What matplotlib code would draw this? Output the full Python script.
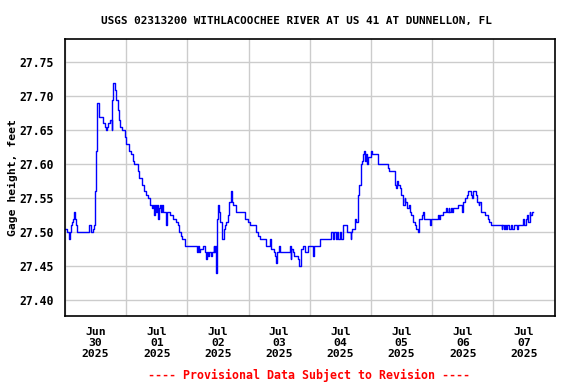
import numpy as np
import pandas as pd
import matplotlib
matplotlib.use('Agg')
import matplotlib.pyplot as plt
import matplotlib.dates as mdates

# gage height breakpoints: hours after 2025-06-30 00:00, value in feet (15-min steps)
hours = [0, 0.75, 1.5, 2, 2.25, 2.75, 3, 3.5, 4, 4.25, 4.75, 9.5, 10.25, 11, 11.5,
         11.75, 12.25, 12.5, 12.75, 13.5, 15, 15.75, 16.25, 16.5, 16.75, 17.75, 18.25,
         18.5, 19, 19.75, 20, 20.75, 21.25, 21.75, 22.25, 23.5, 24, 25, 25.75, 26.5,
         27.25, 28.5, 29, 30.25, 31, 31.75, 32.5, 33.5, 34, 34.5, 34.75, 35.25, 35.75,
         36, 36.5, 36.75, 37.25, 37.5, 38, 38.5, 39.75, 40, 41.25, 42.5, 43.5, 44.25,
         44.75, 45.5, 45.75, 47.25, 51.75, 52, 52.5, 53, 54.25, 54.75, 55.25, 55.75,
         56.25, 56.5, 57.25, 57.5, 58.25, 58.5, 59, 59.25, 59.5, 59.75, 60, 60.5, 60.75,
         61.5, 61.75, 62.25, 62.75, 63.25, 64, 64.5, 65, 65.5, 65.75, 67.25, 70.75,
         71.75, 72.5, 75, 75.75, 76.5, 78.75, 80.5, 80.75, 82, 82.25, 82.75, 83, 83.75,
         84.25, 88.25, 88.5, 88.75, 89.5, 90, 91.25, 91.75, 92.75, 93.25, 94, 95.25,
         97.25, 97.5, 100, 104.5, 105, 105.5, 106.25, 106.5, 107.25, 107.75, 108.25,
         109, 110.5, 112, 112.25, 112.75, 113.75, 114.25, 114.75, 115, 115.5, 116,
         116.5, 116.75, 117.25, 117.75, 118, 118.5, 118.75, 120, 120.25, 122.75, 126.75,
         127.25, 129.25, 130, 130.25, 130.5, 131.25, 131.75, 132.5, 132.75, 133.25,
         133.5, 134.25, 135, 135.5, 135.75, 136.5, 137.25, 137.75, 138.25, 138.75, 139,
         140, 140.25, 140.75, 143.25, 143.5, 146.25, 146.75, 147.25, 148.25, 149.5, 150,
         150.5, 150.75, 151.25, 151.75, 152.25, 154, 155.75, 156, 156.75, 157.5, 158,
         159.25, 159.75, 160, 161, 161.5, 161.75, 162.25, 162.5, 163.25, 164.75, 165.75,
         166.25, 167, 171.25, 171.5, 172, 172.5, 173, 173.5, 174, 174.75, 175.25, 176.25,
         177.25, 177.75, 179.5, 180, 180.75, 181.25, 181.75, 182.25, 182.5, 183, 183.5]
gage_ft = [27.505, 27.50, 27.49, 27.50, 27.51, 27.515, 27.52, 27.53, 27.52, 27.51, 27.50,
           27.51, 27.50, 27.505, 27.51, 27.56, 27.62, 27.66, 27.69, 27.67, 27.66, 27.655,
           27.65, 27.655, 27.66, 27.665, 27.65, 27.695, 27.72, 27.71, 27.695, 27.68,
           27.665, 27.655, 27.65, 27.64, 27.63, 27.62, 27.615, 27.605, 27.60, 27.59, 27.58,
           27.57, 27.56, 27.555, 27.55, 27.54, 27.535, 27.54, 27.525, 27.54, 27.53, 27.54,
           27.52, 27.535, 27.54, 27.53, 27.54, 27.53, 27.51, 27.53, 27.525, 27.52, 27.515,
           27.51, 27.50, 27.495, 27.49, 27.48, 27.47, 27.48, 27.47, 27.475, 27.48, 27.47,
           27.46, 27.47, 27.465, 27.47, 27.465, 27.47, 27.48, 27.47, 27.48, 27.44, 27.50,
           27.52, 27.54, 27.53, 27.515, 27.505, 27.49, 27.505, 27.51, 27.515, 27.525,
           27.545, 27.56, 27.545, 27.54, 27.53, 27.52, 27.515, 27.51, 27.50, 27.495, 27.49,
           27.48, 27.49, 27.475, 27.47, 27.465, 27.455, 27.47, 27.48, 27.47, 27.48, 27.46,
           27.475, 27.47, 27.465, 27.46, 27.45, 27.475, 27.48, 27.47, 27.48, 27.465, 27.48,
           27.49, 27.50, 27.49, 27.50, 27.49, 27.50, 27.49, 27.50, 27.49, 27.51, 27.50,
           27.49, 27.50, 27.505, 27.52, 27.515, 27.535, 27.555, 27.57, 27.60, 27.605,
           27.615, 27.62, 27.605, 27.615, 27.60, 27.61, 27.62, 27.615, 27.60, 27.595,
           27.59, 27.57, 27.565, 27.575, 27.57, 27.565, 27.555, 27.55, 27.54, 27.55,
           27.545, 27.535, 27.54, 27.53, 27.525, 27.515, 27.51, 27.505, 27.50, 27.515,
           27.52, 27.525, 27.53, 27.52, 27.51, 27.52, 27.525, 27.52, 27.525, 27.53, 27.535,
           27.53, 27.535, 27.53, 27.535, 27.53, 27.535, 27.54, 27.53, 27.545, 27.55, 27.555,
           27.56, 27.555, 27.55, 27.56, 27.555, 27.55, 27.545, 27.54, 27.545, 27.53,
           27.525, 27.52, 27.515, 27.51, 27.505, 27.51, 27.505, 27.51, 27.505, 27.51,
           27.505, 27.51, 27.505, 27.51, 27.505, 27.51, 27.52, 27.51, 27.52, 27.525,
           27.515, 27.53, 27.525, 27.53, 27.53]

y_ticks = [27.40, 27.45, 27.50, 27.55, 27.60, 27.65, 27.70, 27.75]
title = 'USGS 02313200 WITHLACOOCHEE RIVER AT US 41 AT DUNNELLON, FL'

start = pd.Timestamp('2025-06-30 00:00')
times = start + pd.to_timedelta(hours, unit='h')

mono = 'DejaVu Sans Mono'
fig = plt.figure(figsize=(5.76, 3.84), dpi=100)
ax = fig.add_axes([0.1128, 0.178, 0.850, 0.7197])

ax.plot(times, gage_ft, color='#0000ff', lw=1.0, drawstyle='steps-post')

ax.set_xlim(start, start + pd.Timedelta(days=8))
ax.set_ylim(27.377, 27.784)
ax.set_yticks(y_ticks)
ax.set_yticklabels(['%.2f' % v for v in y_ticks], family=mono, fontsize=8.3, weight='bold')

ax.xaxis.set_major_locator(mdates.DayLocator())
ax.xaxis.set_major_formatter(plt.NullFormatter())
ax.xaxis.set_minor_locator(mdates.HourLocator(byhour=[12]))
ax.xaxis.set_minor_formatter(mdates.DateFormatter('%b\n%d\n%Y'))
for lab in ax.xaxis.get_minorticklabels():
    lab.set_family(mono)
    lab.set_fontsize(8.2)
    lab.set_weight('bold')
    lab.set_linespacing(1.15)

ax.tick_params(axis='both', which='both', length=0)
ax.tick_params(axis='x', which='minor', pad=8)
ax.tick_params(axis='y', pad=8)

ax.grid(True, which='major', color='#cccccc', lw=1.0)
ax.set_axisbelow(True)
for sp in ax.spines.values():
    sp.set_linewidth(1.2)
    sp.set_color('black')

ax.set_ylabel('Gage height, feet', family=mono, fontsize=8.2, weight='bold', labelpad=1)

fig.text(0.514, 0.946, title, ha='center', va='center', family=mono,
         fontsize=7.9, weight='bold')
fig.text(0.536, 0.023, '---- Provisional Data Subject to Revision ----', ha='center',
         va='center', family=mono, fontsize=8.4, weight='bold', color='red')

fig.savefig('out.png', dpi=100)
